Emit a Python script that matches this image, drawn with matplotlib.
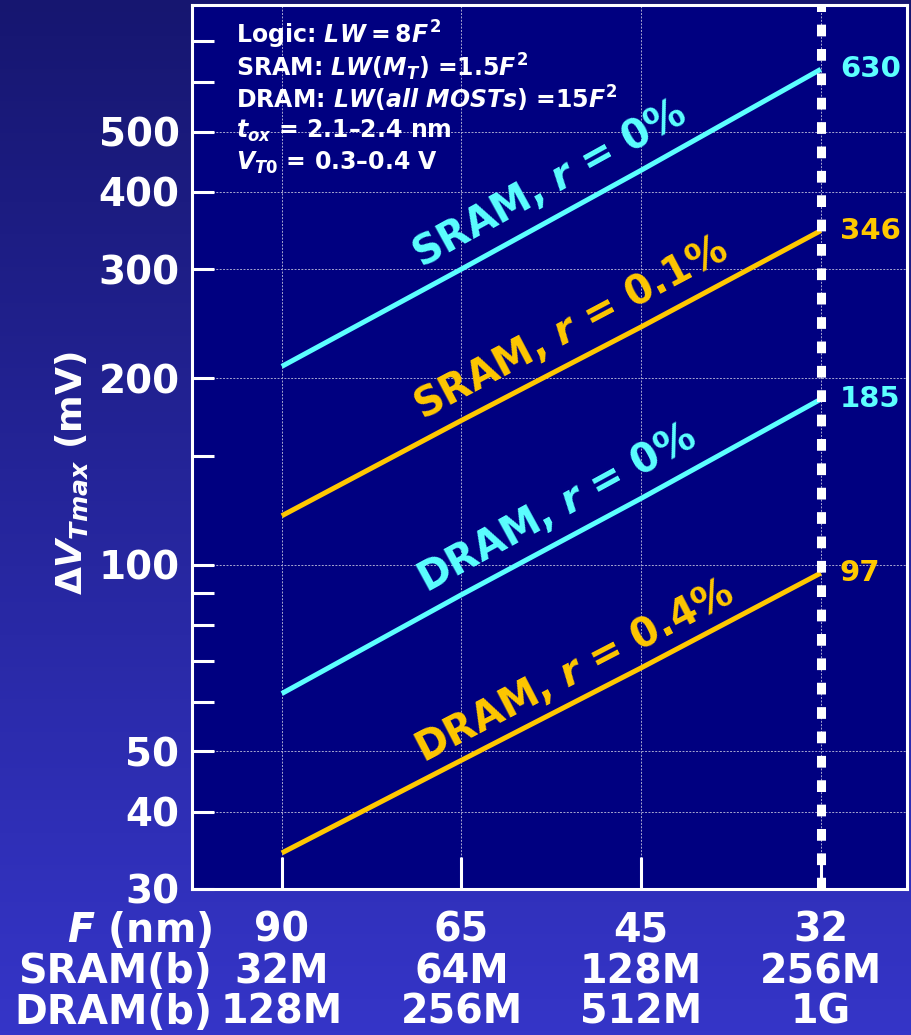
import numpy as np
import matplotlib

matplotlib.use("Agg")
import matplotlib.pyplot as plt
from matplotlib.ticker import FixedLocator, FixedFormatter

# node data: feature size and array sizes
feature_nm = ["90", "65", "45", "32"]
sram_bits = ["32M", "64M", "128M", "256M"]
dram_bits = ["128M", "256M", "512M", "1G"]

# max threshold-voltage shift (mV) per node
sram_r0 = [209, 300, 433, 630]
sram_r01 = [120, 171, 242, 346]
dram_r0 = [62, 89.5, 128, 185]
dram_r04 = [34.3, 48.4, 68.2, 97]

series = [
    (sram_r0, "SRAM, $r$ = 0%", "#5CFFFF", 1.49, 37),
    (sram_r01, "SRAM, $r$ = 0.1%", "#FFC800", 1.61, 35),
    (dram_r0, "DRAM, $r$ = 0%", "#5CFFFF", 1.53, 35),
    (dram_r04, "DRAM, $r$ = 0.4%", "#FFC800", 1.63, 31),
]

y_ticks = [30, 40, 50, 60, 70, 80, 90, 100, 150, 200, 300, 400, 500, 600, 700]
y_labeled = [30, 40, 50, 100, 200, 300, 400, 500]
grid_y = [40, 50, 100, 200, 300, 400, 500]

plt.rcParams["mathtext.fontset"] = "custom"
plt.rcParams["mathtext.rm"] = "DejaVu Sans:bold"
plt.rcParams["mathtext.it"] = "DejaVu Sans:italic:bold"
plt.rcParams["mathtext.bf"] = "DejaVu Sans:bold"
plt.rcParams["font.family"] = "DejaVu Sans"
plt.rcParams["font.weight"] = "bold"

W, H = 911, 1035
fig = plt.figure(figsize=(W / 100, H / 100), dpi=100)

# blue gradient backdrop
bg = fig.add_axes([0, 0, 1, 1], zorder=-5)
grad = np.linspace(0, 1, 256).reshape(-1, 1)
top = np.array([22, 22, 112]) / 255
bot = np.array([53, 53, 200]) / 255
img = top + (bot - top) * grad[..., None]
bg.imshow(np.repeat(img, 2, axis=1), aspect="auto", extent=[0, 1, 0, 1])
bg.set_axis_off()

ax = fig.add_axes([192 / W, (H - 889) / H, (907 - 192) / W, (889 - 5) / H])
ax.set_facecolor("#000080")
ax.set_yscale("log")
ax.set_xlim(-0.5, 3.48)
ax.set_ylim(30, 800)

for s in ax.spines.values():
    s.set_color("white")
    s.set_linewidth(2.2)

ax.yaxis.set_major_locator(FixedLocator(y_ticks))
ax.yaxis.set_major_formatter(
    FixedFormatter([str(v) if v in y_labeled else "" for v in y_ticks])
)
ax.yaxis.set_minor_locator(FixedLocator([]))
ax.tick_params(axis="y", which="major", direction="in", length=16, width=2.2,
               color="white", labelcolor="white", labelsize=28, pad=9)
ax.set_xticks(range(len(feature_nm)))
ax.set_xticklabels([])
ax.tick_params(axis="x", direction="in", length=23, width=2.2, color="white")

for v in grid_y:
    ax.axhline(v, color="#A8A8D0", lw=0.7, ls=(0, (2, 1.5)), zorder=1)
for i in range(len(feature_nm)):
    ax.axvline(i, color="#A8A8D0", lw=0.7, ls=(0, (2, 1.5)), zorder=1)

# 32 nm node marker
ax.axvline(3, color="white", lw=6.5, dashes=(1.3, 1.4), zorder=4)

x = np.arange(len(feature_nm))
for vals, label, col, xc, off in series:
    ax.plot(x, vals, color=col, lw=3.6, solid_capstyle="butt", zorder=3)
    p0 = ax.transData.transform((x[0], vals[0]))
    p1 = ax.transData.transform((x[-1], vals[-1]))
    ang = np.degrees(np.arctan2(p1[1] - p0[1], p1[0] - p0[0]))
    yc = 10 ** np.interp(xc, x, np.log10(vals))
    ax.annotate(label, xy=(xc, yc), xytext=(0, off), textcoords="offset pixels",
                ha="center", va="center", rotation=ang, rotation_mode="anchor",
                color=col, fontsize=28.5, fontweight="bold", zorder=5)
    ax.annotate(f"{vals[-1]:g}", xy=(x[-1], vals[-1]), xytext=(19, 0),
                textcoords="offset pixels", ha="left", va="center",
                color=col, fontsize=21, fontweight="bold", zorder=5)

# process assumptions
notes = [
    "Logic: $LW = 8F^2$",
    "SRAM: $LW(M_T)$ =1.5$F^2$",
    r"DRAM: $LW(all\ MOSTs)$ =15$F^2$",
    r"$t_{ox}$ = 2.1–2.4 nm",
    r"$V_{T0}$ = 0.3–0.4 V",
]
for k, t in enumerate(notes):
    fig.text(236 / W, 1 - (35 + k * 32) / H, t, color="white", fontsize=17,
             fontweight="bold", ha="left", va="center")

fig.text(72 / W, 1 - 473 / H, r"$\Delta V_{Tmax}$ (mV)", color="white",
         fontsize=26, fontweight="bold", rotation=90, ha="center", va="center")

# node table under the x axis
rows = [("$F$ (nm)", feature_nm, 930), ("SRAM(b)", sram_bits, 972),
        ("DRAM(b)", dram_bits, 1013)]
tr = matplotlib.transforms.blended_transform_factory(ax.transData, fig.transFigure)
for name, labels, ypix in rows:
    fig.text(212 / W, 1 - ypix / H, name, color="white", fontsize=28.5,
             fontweight="bold", ha="right", va="center")
    for i, lab in enumerate(labels):
        ax.text(i, 1 - ypix / H, lab, transform=tr, color="white", fontsize=28.5,
                fontweight="bold", ha="center", va="center", clip_on=False)

fig.savefig("out.png", dpi=100)
